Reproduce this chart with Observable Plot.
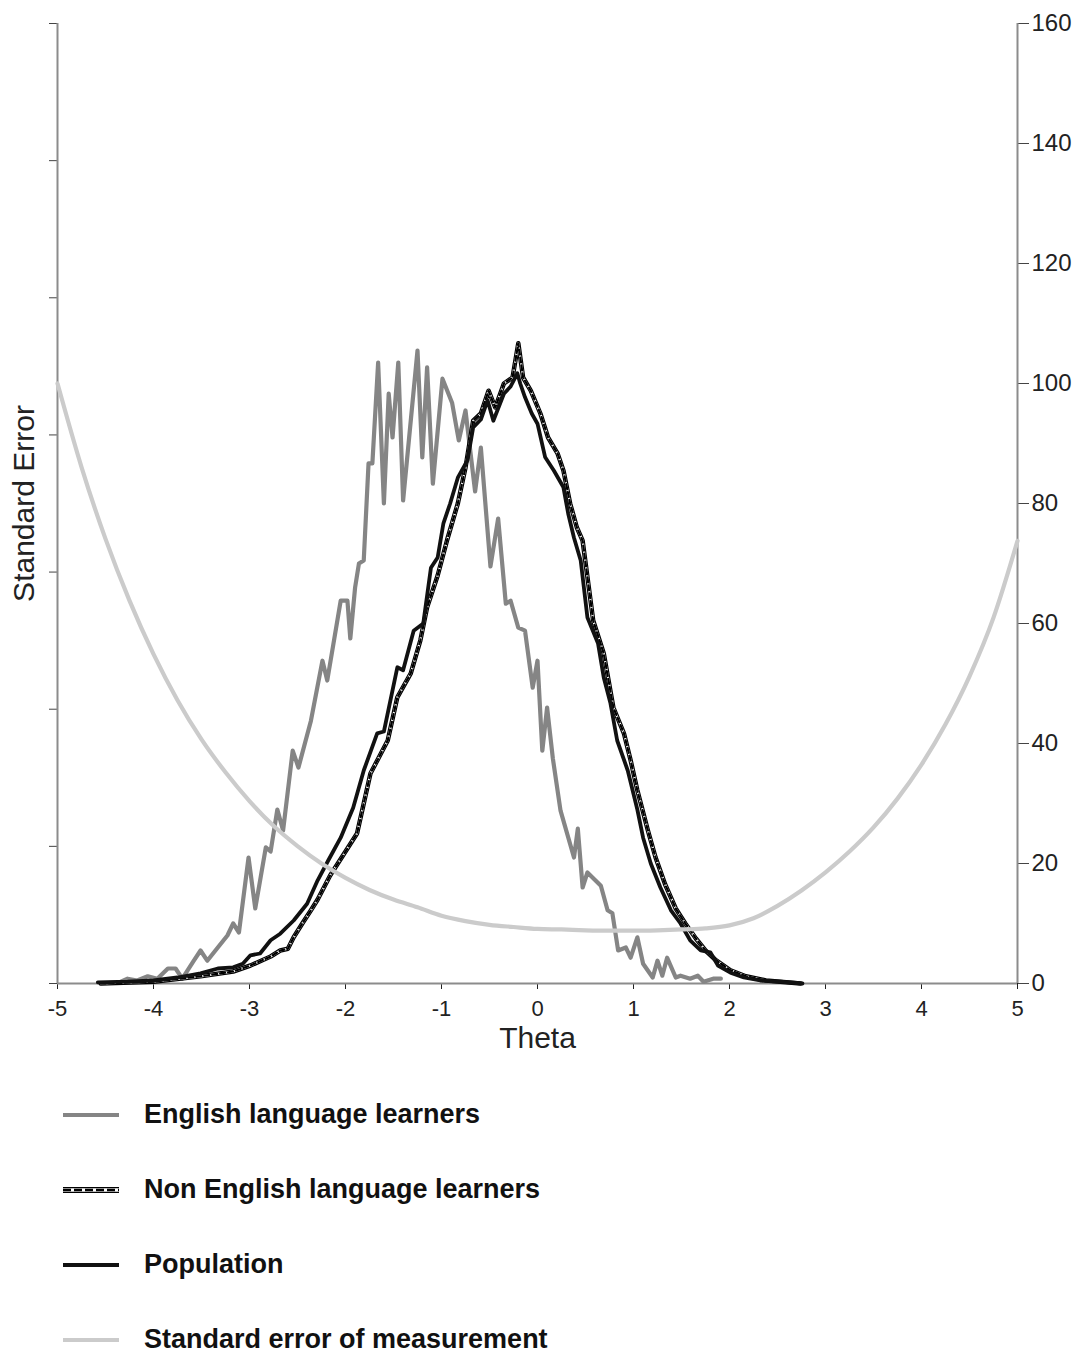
<!DOCTYPE html>
<html>
<head>
<meta charset="utf-8">
<script src="https://cdn.jsdelivr.net/npm/d3@7"></script>
<script src="https://cdn.jsdelivr.net/npm/@observablehq/plot@0.6"></script>
<style>
  html, body { margin: 0; padding: 0; background: #fff; }
  #chart svg { display: block; }
  #legend { padding-top: 17px; font-family: "Liberation Sans", Arial, sans-serif; font-weight: bold; font-size: 27px; color: #111; }
  .row { height: 75px; display: flex; align-items: center; }
  .row svg { margin-left: 63px; }
  .row span { margin-left: 25px; }
</style>
</head>
<body>
<div id="chart"></div>
<div id="legend"></div>
<script>
// ---- tick labels ----
const xTicks = [-5, -4, -3, -2, -1, 0, 1, 2, 3, 4, 5];
const countTicks = [0, 20, 40, 60, 80, 100, 120, 140, 160];
const seTicks = [0, 0.5, 1, 1.5, 2, 2.5, 3, 3.5];   // unlabeled left axis (Standard Error)
const seMax = 3.5, countMax = 160;

// ---- English language learners ----
const ellTheta = [-4.34,-4.27,-4.17,-4.06,-3.96,-3.85,-3.77,-3.70,-3.58,-3.51,-3.44,-3.33,-3.23,-3.17,-3.11,-3.01,-2.94,-2.83,-2.78,-2.71,-2.65,-2.55,-2.49,-2.36,-2.24,-2.19,-2.05,-1.98,-1.95,-1.90,-1.86,-1.81,-1.76,-1.72,-1.66,-1.60,-1.55,-1.51,-1.45,-1.40,-1.25,-1.20,-1.15,-1.09,-0.99,-0.89,-0.82,-0.75,-0.65,-0.59,-0.49,-0.41,-0.33,-0.28,-0.20,-0.13,-0.05,0.00,0.05,0.10,0.16,0.24,0.38,0.42,0.47,0.52,0.66,0.73,0.78,0.84,0.92,0.97,1.04,1.10,1.20,1.25,1.30,1.35,1.44,1.49,1.59,1.67,1.73,1.83,1.91];
const ellCount = [0.3,0.8,0.5,1.2,0.8,2.5,2.5,0.8,3.8,5.5,3.8,6,8,10,8.5,21,12.5,22.7,22,29,25.5,38.8,36,43.8,53.8,50.5,63.8,63.8,57.5,66,70,70.5,86.7,86.7,103.5,80,98.3,91,103.5,80.5,105.5,87.7,102.7,83.3,100.8,96.8,90.5,95.5,82,89.3,69.5,77.5,63.3,63.8,59.3,58.8,49.3,53.8,38.8,46,37.5,28.8,21,25.8,16,18.5,16.3,12.2,11.7,5.5,6,4.3,7.7,3.3,1,3.8,1.3,4.3,1,1.3,0.8,1.3,0.3,0.8,0.8];

// ---- Non English language learners ----
const nellTheta = [-4.55,-4.0,-3.51,-3.17,-2.99,-2.78,-2.68,-2.60,-2.54,-2.45,-2.36,-2.29,-2.16,-2.02,-1.88,-1.74,-1.56,-1.46,-1.32,-1.22,-1.15,-1.04,-0.94,-0.83,-0.75,-0.67,-0.59,-0.51,-0.44,-0.35,-0.26,-0.20,-0.15,-0.07,0.03,0.11,0.21,0.27,0.34,0.41,0.47,0.58,0.69,0.79,0.90,0.97,1.04,1.15,1.23,1.33,1.44,1.54,1.65,1.75,1.85,2.01,2.17,2.38,2.74];
const nellCount = [0,0.3,1.2,2,3,4.5,5.5,5.8,7.7,10,12.2,14,18,21.5,25,35,40.5,47.7,51.7,57.2,62.7,68,74,80,86,93.8,95,98.8,96,100,101,106.7,101,98.8,95,91,88.3,85.5,80,76,73.8,60.5,55,46,41.7,37.2,32.2,25.5,21,16.5,12.5,10,7.5,5.5,4,2.2,1.2,0.5,0];

// ---- Population ----
const popTheta = [-4.58,-4.27,-4.0,-3.75,-3.51,-3.33,-3.17,-3.07,-2.99,-2.89,-2.78,-2.68,-2.54,-2.40,-2.29,-2.18,-2.05,-1.92,-1.81,-1.67,-1.60,-1.46,-1.40,-1.29,-1.19,-1.11,-1.04,-0.98,-0.91,-0.83,-0.73,-0.67,-0.59,-0.52,-0.46,-0.35,-0.28,-0.21,-0.18,-0.13,-0.06,0.00,0.08,0.17,0.27,0.32,0.38,0.45,0.52,0.63,0.69,0.76,0.83,0.94,1.04,1.10,1.18,1.28,1.39,1.49,1.59,1.70,1.80,1.88,2.01,2.15,2.32,2.53,2.76];
const popCount = [0.2,0.3,0.5,1,1.7,2.5,2.7,3.3,4.7,5,7.2,8.3,10.5,13.3,17.2,20.5,24.3,29.3,35.5,41.7,42,52.7,52.2,58.8,60,69.3,71,76.7,80,84.3,87.2,92.7,94,97.2,93.8,98.3,99.5,101.7,100,97.7,95,93.3,87.7,85.5,82.7,78.3,74.3,70.5,61,56.7,51,46.7,40.5,35.5,29,24.3,20,16,12.2,10,7.2,5.5,5.2,3,1.8,1,0.5,0.3,0];

// ---- Standard error of measurement (left-axis units) ----
const semTheta = [-5,-4.75,-4.5,-4.25,-4,-3.75,-3.5,-3.25,-3,-2.75,-2.5,-2.25,-2,-1.75,-1.5,-1.25,-1,-0.75,-0.5,-0.25,0,0.25,0.5,0.75,1,1.25,1.5,1.75,2,2.25,2.5,2.75,3,3.25,3.5,3.75,4,4.25,4.5,4.75,5];
const semSE = [2.1875,1.883,1.621,1.396,1.201,1.033,0.890,0.770,0.665,0.575,0.501,0.4375,0.385,0.341,0.306,0.278,0.247,0.2275,0.214,0.206,0.199,0.197,0.194,0.1925,0.1925,0.194,0.197,0.201,0.212,0.238,0.283,0.339,0.405,0.481,0.569,0.674,0.798,0.945,1.12,1.334,1.614];

const k = countMax / seMax; // left (SE) axis onto the shared frame
const zip = (xs, ys) => xs.map((t, i) => ({theta: t, v: ys[i]}));
const ell = zip(ellTheta, ellCount);
const nell = zip(nellTheta, nellCount);
const pop = zip(popTheta, popCount);
const sem = zip(semTheta, semSE);

const axisGray = "#8c8c8c";
const ellColor = "#858585";
const semColor = "#cbcbcb";
const popColor = "#111111";

const chart = Plot.plot({
  width: 1089,
  height: 1060,
  marginLeft: 57,
  marginRight: 72,
  marginTop: 23,
  marginBottom: 77,
  x: {domain: [-5, 5]},
  y: {domain: [0, countMax]},
  style: {fontFamily: "'Liberation Sans', Arial, sans-serif", fontSize: "21px", color: "#222", background: "#fff"},
  marks: [
    Plot.axisX({ticks: xTicks, tickSize: 6, tickPadding: 11, tickFormat: d => String(d), label: null, fontSize: 22}),
    Plot.axisY({anchor: "right", ticks: countTicks, tickSize: 11, tickPadding: 3, tickFormat: d => String(d), label: null, fontSize: 24, stroke: "#444"}),
    Plot.axisY({anchor: "left", ticks: seTicks.map(s => s * k), tickSize: 8, tickFormat: () => "", label: null, stroke: "#444"}),
    Plot.ruleY([0], {stroke: axisGray, strokeWidth: 2}),
    Plot.ruleX([-5, 5], {stroke: axisGray, strokeWidth: 2}),
    Plot.line(ell, {x: "theta", y: "v", stroke: ellColor, strokeWidth: 4.2, strokeLinejoin: "round"}),
    Plot.line(nell, {x: "theta", y: "v", stroke: "#000", strokeWidth: 4.5, strokeLinejoin: "round"}),
    Plot.line(nell, {x: "theta", y: "v", stroke: "#fff", strokeWidth: 2.2, strokeLinejoin: "round"}),
    Plot.line(nell, {x: "theta", y: "v", stroke: "#000", strokeWidth: 2.2, strokeDasharray: "5,3"}),
    Plot.line(pop, {x: "theta", y: "v", stroke: popColor, strokeWidth: 3.8, strokeLinejoin: "round"}),
    Plot.line(sem, {x: "theta", y: d => d.v * k, stroke: semColor, strokeWidth: 4.2, curve: "monotone-x"}),
    Plot.text(["Standard Error"], {frameAnchor: "left", rotate: -90, dx: -33, textAnchor: "middle", fontSize: 30, fill: "#222"}),
    Plot.text(["Theta"], {frameAnchor: "bottom", dy: 64, fontSize: 30, fill: "#222"})
  ]
});
document.getElementById("chart").appendChild(chart);

// ---- legend ----
const legendItems = [
  {label: "English language learners", kind: "ell"},
  {label: "Non English language learners", kind: "nell"},
  {label: "Population", kind: "pop"},
  {label: "Standard error of measurement", kind: "sem"}
];
const legend = d3.select("#legend");
for (const item of legendItems) {
  const row = legend.append("div").attr("class", "row");
  const sw = row.append("svg").attr("width", 56).attr("height", 12);
  const line = (stroke, w, dash) => {
    const l = sw.append("line").attr("x1", 0).attr("x2", 56).attr("y1", 6).attr("y2", 6)
      .attr("stroke", stroke).attr("stroke-width", w);
    if (dash) l.attr("stroke-dasharray", dash);
  };
  if (item.kind === "ell") line(ellColor, 4);
  if (item.kind === "pop") line(popColor, 4);
  if (item.kind === "sem") line(semColor, 4);
  if (item.kind === "nell") { line("#000", 6); line("#fff", 3.5); line("#000", 2.5, "8,3"); }
  row.append("span").text(item.label);
}
</script>
</body>
</html>
